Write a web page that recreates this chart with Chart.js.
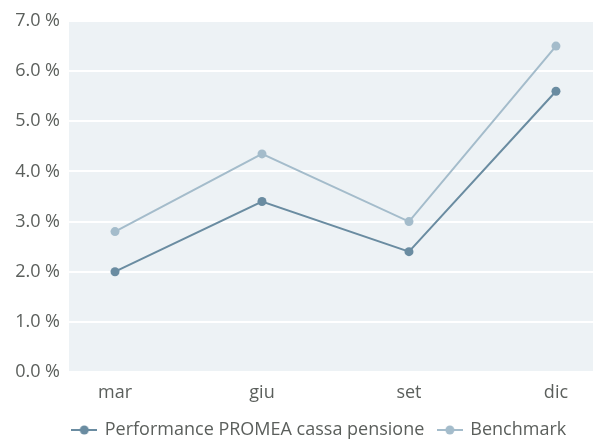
<!DOCTYPE html>
<html>
<head>
<meta charset="utf-8">
<script src="https://cdn.jsdelivr.net/npm/chart.js@4.4.1/dist/chart.umd.min.js"></script>
<style>
  html, body { margin: 0; padding: 0; background: #fff; }
  #wrap { width: 593px; height: 439px; }
</style>
</head>
<body>
<div id="wrap"><canvas id="myChart" width="593" height="439"></canvas></div>
<script>
// data
const months = ['mar', 'giu', 'set', 'dic'];
const performance = [2.0, 3.4, 2.4, 5.6];
const benchmark = [2.8, 4.35, 3.0, 6.5];
const seriesNames = ['Performance PROMEA cassa pensione', 'Benchmark'];

const darkColor = '#6a8ca1';
const lightColor = '#a4bccb';
const textColor = '#5b5f5c';

// little line-with-dot symbol for the legend
function legendSymbol(color) {
    const c = document.createElement('canvas');
    c.width = 26;
    c.height = 12;
    const g = c.getContext('2d');
    g.strokeStyle = color;
    g.lineWidth = 2;
    g.beginPath();
    g.moveTo(0, 6);
    g.lineTo(26, 6);
    g.stroke();
    g.fillStyle = color;
    g.beginPath();
    g.arc(13, 6, 4.5, 0, Math.PI * 2);
    g.fill();
    return c;
}

const plotBackground = {
    id: 'plotBackground',
    beforeDraw(chart) {
        const a = chart.chartArea;
        const ctx = chart.ctx;
        ctx.save();
        ctx.fillStyle = '#edf2f5';
        ctx.fillRect(a.left, a.top, a.right - a.left, a.bottom - a.top);
        ctx.restore();
    }
};

// legend is centred a bit right of the canvas middle
const legendShift = {
    id: 'legendShift',
    afterLayout(chart) {
        const lg = chart.legend;
        lg.left = 46;
        lg.width = lg.right - lg.left;
    }
};

Chart.defaults.font.family = '"Open Sans", sans-serif';
Chart.defaults.font.size = 18;
Chart.defaults.color = textColor;

const ctx = document.getElementById('myChart');
const myChart = new Chart(ctx, {
    type: 'line',
    data: {
        datasets: [{
            label: seriesNames[0],
            data: performance.map((v, i) => ({ x: i, y: v })),
            borderColor: darkColor,
            backgroundColor: darkColor,
            pointBackgroundColor: darkColor,
            pointBorderWidth: 0,
            pointRadius: 4.5,
            borderWidth: 2,
            tension: 0
        }, {
            label: seriesNames[1],
            data: benchmark.map((v, i) => ({ x: i, y: v })),
            borderColor: lightColor,
            backgroundColor: lightColor,
            pointBackgroundColor: lightColor,
            pointBorderWidth: 0,
            pointRadius: 4.5,
            borderWidth: 2,
            tension: 0
        }]
    },
    options: {
        responsive: false,
        animation: false,
        layout: { autoPadding: false, padding: { top: 21, right: 0, bottom: -10, left: 0 } },
        scales: {
            x: {
                type: 'linear',
                min: -0.313,
                max: 3.252,
                afterBuildTicks: (scale) => {
                    scale.ticks = months.map((m, i) => ({ value: i }));
                },
                afterFit: (scale) => {
                    scale.paddingLeft = 0;
                    scale.paddingRight = 0;
                    scale.height = 35;
                },
                grid: { display: false, drawTicks: false },
                border: { display: false },
                ticks: {
                    padding: 10,
                    maxRotation: 0,
                    callback: (v) => months[v]
                }
            },
            y: {
                min: 0,
                max: 7,
                afterFit: (scale) => { scale.width = 69; },
                grid: { color: '#ffffff', lineWidth: 2, drawTicks: false },
                border: { display: false },
                ticks: {
                    stepSize: 1,
                    padding: 9,
                    callback: (v) => v.toFixed(1) + ' %'
                }
            }
        },
        plugins: {
            legend: {
                position: 'bottom',
                labels: {
                    usePointStyle: true,
                    pointStyleWidth: 23,
                    padding: 14,
                    generateLabels: (chart) => chart.data.datasets.map((ds, i) => ({
                        text: ds.label,
                        pointStyle: legendSymbol(ds.borderColor),
                        fillStyle: ds.borderColor,
                        strokeStyle: ds.borderColor,
                        lineWidth: 0,
                        fontColor: textColor,
                        datasetIndex: i
                    }))
                }
            },
            tooltip: { enabled: false }
        }
    },
    plugins: [plotBackground, legendShift]
});
</script>
</body>
</html>
